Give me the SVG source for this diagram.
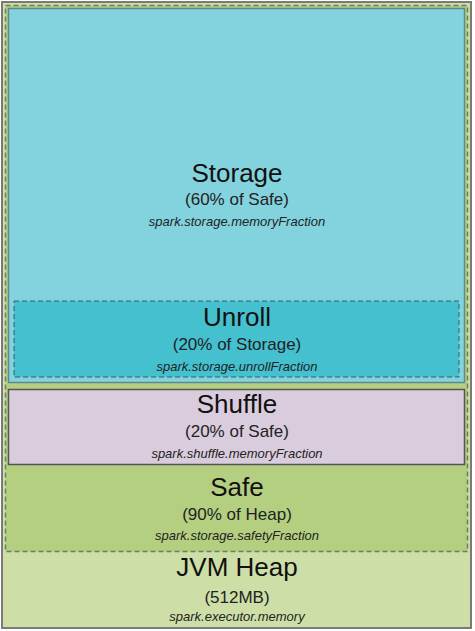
<svg xmlns="http://www.w3.org/2000/svg" width="475" height="631" viewBox="0 0 475 631">
<style>
.t1{font-family:"Liberation Sans",Arial,sans-serif;font-size:26px;fill:#111;text-anchor:middle}
.t2{font-family:"Liberation Sans",Arial,sans-serif;font-size:17px;fill:#222;text-anchor:middle}
.t3{font-family:"Liberation Sans",Arial,sans-serif;font-size:13px;font-style:italic;fill:#222;text-anchor:middle}
</style>
<rect width="475" height="631" fill="#ffffff"/>
<g id="jvm-heap">
<rect x="2" y="2" width="469" height="626" fill="#cddfa6" stroke="#7a7a7a" stroke-width="2"/>
<text class="t1" x="237" y="576">JVM Heap</text>
<text class="t2" x="237" y="603">(512MB)</text>
<text class="t3" x="237" y="621">spark.executor.memory</text>
</g>
<g id="safe">
<rect x="5.5" y="5.5" width="462" height="546" fill="#b4cf80" stroke="#6e7e66" stroke-width="1.5" stroke-dasharray="5,3"/>
<text class="t1" x="237" y="496">Safe</text>
<text class="t2" x="237" y="520">(90% of Heap)</text>
<text class="t3" x="237" y="540">spark.storage.safetyFraction</text>
</g>
<g id="storage">
<rect x="8.5" y="8.5" width="456" height="374" fill="#82d3de" stroke="#5c8a90" stroke-width="1.5"/>
<text class="t1" x="237" y="182">Storage</text>
<text class="t2" x="237" y="205">(60% of Safe)</text>
<text class="t3" x="237" y="226">spark.storage.memoryFraction</text>
</g>
<g id="unroll">
<rect x="14" y="301" width="445" height="76" fill="#45c0cf" stroke="#3b5e66" stroke-width="1" stroke-dasharray="5,3"/>
<text class="t1" x="237" y="326">Unroll</text>
<text class="t2" x="237" y="350">(20% of Storage)</text>
<text class="t3" x="237" y="371">spark.storage.unrollFraction</text>
</g>
<g id="shuffle">
<rect x="8.5" y="389.5" width="456" height="75" fill="#d9ccdd" stroke="#555555" stroke-width="1.5"/>
<text class="t1" x="237" y="413">Shuffle</text>
<text class="t2" x="237" y="437">(20% of Safe)</text>
<text class="t3" x="237" y="458">spark.shuffle.memoryFraction</text>
</g>
<g id="connectors"/>
</svg>
